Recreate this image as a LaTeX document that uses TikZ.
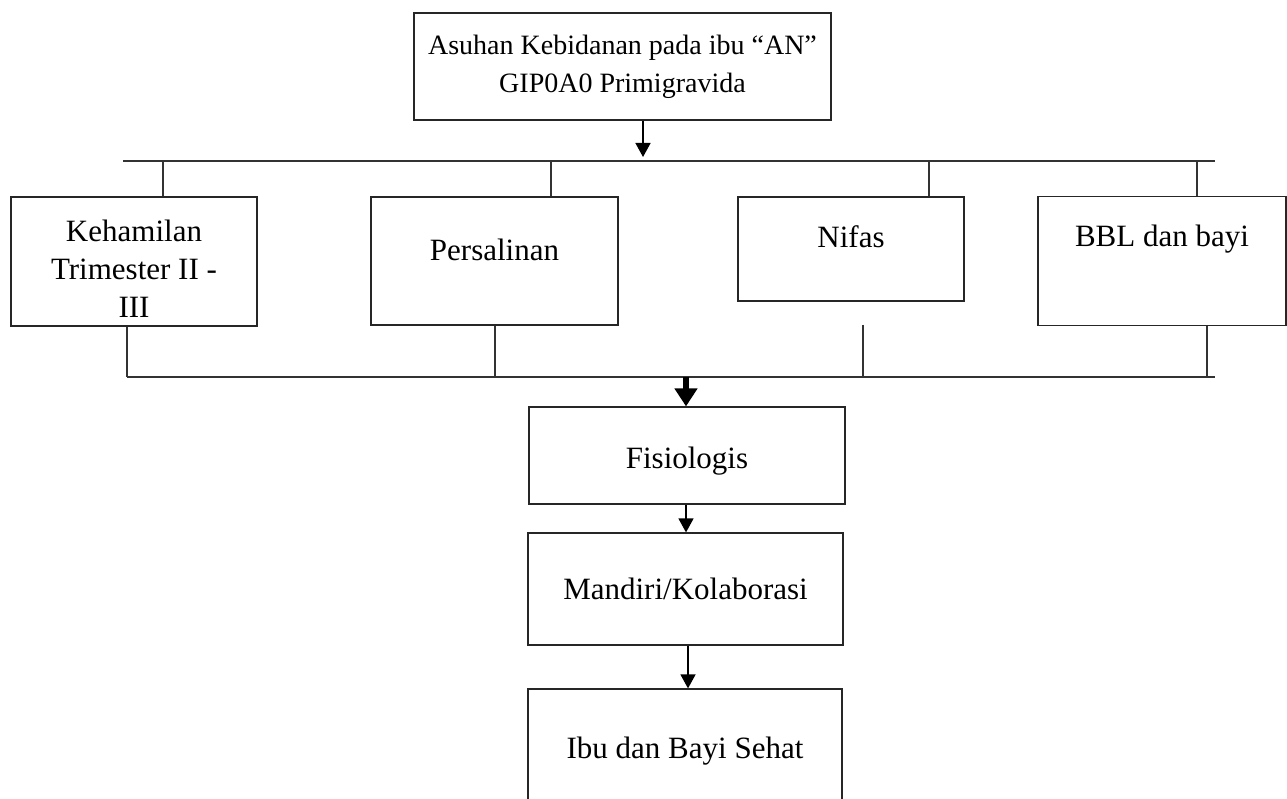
\documentclass[tikz,border=0pt]{standalone}
\usepackage{fontspec}
\setmainfont{Liberation Serif}
\usetikzlibrary{arrows.meta}
\begin{document}
\begin{tikzpicture}[x=1pt,y=-1pt,
  box/.style={draw=black!85, line width=1.2pt, rectangle, inner sep=0pt, align=center, font=\fontsize{31}{40}\selectfont},
  ln/.style={draw=black!80, line width=1.2pt},
  arr/.style={draw=black, line width=1.4pt, -{Triangle[width=15pt,length=14pt]}},
  bigarr/.style={draw=black, line width=6pt, -{Triangle[width=22pt,length=18pt]}}]
\useasboundingbox (0,0) rectangle (1287,799);
\clip (0,0) rectangle (1287,799);
\fill[white] (0,0) rectangle (1287,799);

% boxes
\node[box, minimum width=417pt, minimum height=107pt, font=\fontsize{28}{38}\selectfont] (top) at (622.5,66.5) {Asuhan Kebidanan pada ibu “AN”\\GIP0A0 Primigravida};
\node[box, minimum width=246pt, minimum height=129pt, font=\fontsize{31}{38}\selectfont] (kh) at (134,261.5) {\rule{0pt}{37pt}Kehamilan\\Trimester II -\\III};
\node[box, minimum width=247pt, minimum height=128pt, text height=21pt, text depth=22pt] (ps) at (494.5,261) {Persalinan};
\node[box, minimum width=226pt, minimum height=104pt, text height=21pt, text depth=23pt] (nf) at (851,249) {Nifas};
\node[box, minimum width=248pt, minimum height=129pt, text height=21pt, text depth=49pt] (bb) at (1162,261) {BBL dan bayi};
\node[box, minimum width=316pt, minimum height=97pt, text height=33pt, text depth=7pt] (fis) at (687,455.5) {Fisiologis};
\node[box, minimum width=315pt, minimum height=112pt] (md) at (685.5,589) {Mandiri/Kolaborasi};
\node[box, minimum width=314pt, minimum height=124pt] (fin) at (685,751) {Ibu dan Bayi Sehat};

% top bus
\coordinate (hl) at (123,161);
\coordinate (hr) at (1215,161);
\draw[ln] (hl) -- (hr);
\coordinate (a0) at (643,157);
\draw[arr] (a0 |- top.south) -- (a0);
\coordinate (d1) at (163,161);
\coordinate (d2) at (551,161);
\coordinate (d3) at (929,161);
\coordinate (d4) at (1197,161);
\draw[ln] (d1) -- (d1 |- kh.north);
\draw[ln] (d2) -- (d2 |- ps.north);
\draw[ln] (d3) -- (d3 |- nf.north);
\draw[ln] (d4) -- (d4 |- bb.north);

% bottom bus
\coordinate (bl) at (127,377);
\coordinate (br) at (1215,377);
\draw[ln] (bl) -- (br);
\coordinate (l2) at (495,377);
\coordinate (l3) at (863,377);
\coordinate (l3s) at (863,325);
\coordinate (l4) at (1207,377);
\draw[ln] (bl |- kh.south) -- (bl);
\draw[ln] (l2 |- ps.south) -- (l2);
\draw[ln] (l3s) -- (l3);
\draw[ln] (l4 |- bb.south) -- (l4);

% arrows down
\coordinate (m) at (686,377);
\draw[bigarr] (m) -- (m |- fis.north);
\coordinate (m2) at (686,500);
\draw[arr] (m2 |- fis.south) -- (m2 |- md.north);
\coordinate (m3) at (688,600);
\draw[arr] (m3 |- md.south) -- (m3 |- fin.north);
\end{tikzpicture}
\end{document}
